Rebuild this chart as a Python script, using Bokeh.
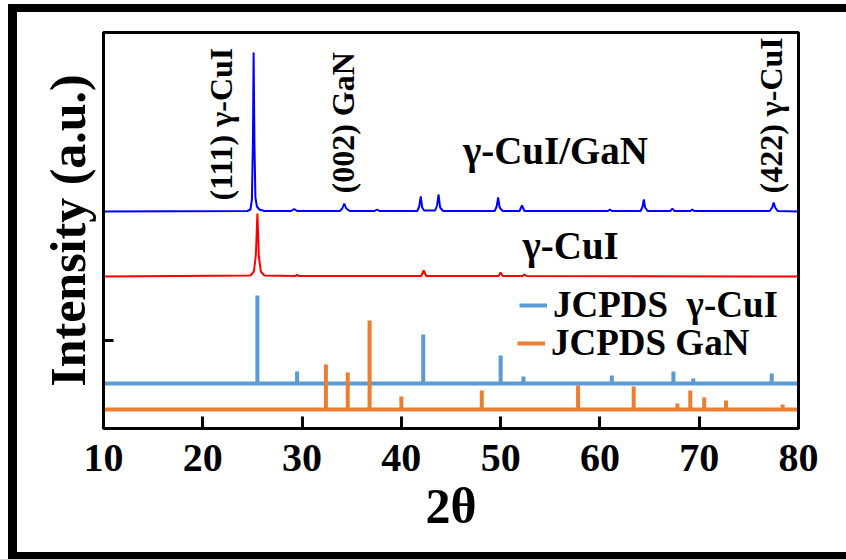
from bokeh.plotting import figure
from bokeh.models import Range1d, FixedTicker, Label, Legend, LegendItem, LinearAxis
from bokeh.embed import file_html
from bokeh.resources import INLINE
import math

# ---------------- data ----------------
# gamma-CuI/GaN film pattern (2theta, intensity above its own baseline)
cuigan_2theta = [10.0, 24.5, 24.8, 24.95, 25.05, 25.12, 25.2, 25.3, 25.45, 25.7, 26.2,
                 28.9, 29.2, 29.5, 33.8, 34.05, 34.25, 34.45, 34.8, 37.3, 37.55, 37.8,
                 41.6, 41.8, 41.95, 42.1, 42.3, 43.4, 43.6, 43.75, 43.9, 44.2,
                 49.4, 49.6, 49.75, 49.9, 50.2, 51.9, 52.15, 52.4, 60.8, 61.0, 61.2,
                 64.1, 64.3, 64.42, 64.55, 64.8, 67.1, 67.3, 67.5, 69.1, 69.3, 69.5,
                 77.1, 77.35, 77.5, 77.65, 77.9, 80.0]
cuigan_int = [0, 0.5, 2, 12, 70, 159, 70, 14, 5, 2, 0.5,
              0.5, 2.5, 0.5, 0.5, 3, 8, 3, 0.5, 0.5, 2, 0.5,
              0.5, 5, 15, 4, 1, 1, 6, 17, 4, 0.5,
              0.5, 5, 14, 4, 0.5, 0.5, 6, 0.5, 0.5, 2, 0.5,
              0.5, 5, 12, 4, 0.5, 0.5, 3, 0.5, 0.5, 2, 0.5,
              0.5, 4, 9, 4, 0.5, 0]

# gamma-CuI pattern
cui_2theta = [10.0, 24.8, 25.15, 25.35, 25.5, 25.65, 25.85, 26.2,
              29.3, 29.5, 29.7, 42.0, 42.25, 42.5, 49.8, 50.0, 50.2,
              52.2, 52.4, 52.6, 80.0]
cui_int = [0, 1, 5, 22, 63, 20, 5, 1,
           0.5, 1.5, 0.5, 0.5, 6, 0.5, 0.5, 4, 0.5,
           0.5, 2, 0.5, 0]

# JCPDS gamma-CuI reference lines
ref_cui_2theta = [25.5, 29.5, 42.2, 50.0, 52.3, 61.2, 67.4, 69.4, 77.3]
ref_cui_int = [88, 12, 49, 28, 7, 8, 12, 5, 10]

# JCPDS GaN reference lines
ref_gan_2theta = [32.4, 34.6, 36.8, 40.0, 48.1, 57.8, 63.4, 67.8, 69.1, 70.5, 72.7, 78.4]
ref_gan_int = [45, 37, 89, 13, 19, 24, 23, 6, 19, 12, 9, 5]

# vertical offsets of the stacked traces (a.u.)
offset_cuigan = 217
offset_cui = 152
offset_ref_cui = 45
offset_ref_gan = 19

x_ticks = [10, 20, 30, 40, 50, 60, 70, 80]
y_ticks = [88]

# ---------------- figure ----------------
SERIF = "Liberation Serif"
p = figure(width=846, height=559, output_backend="svg", toolbar_location=None,
           x_range=Range1d(10, 80), y_range=Range1d(0, 396),
           min_border_left=103, min_border_right=48,
           min_border_top=32, min_border_bottom=131)
# black picture frame (left, top, bottom) painted behind a transparent border area
p.border_fill_alpha = 0
p.styles = {"background-color": "white",
            "box-shadow": ("inset 8px 0 0 0 white, inset 0 4px 0 0 white, "
                           "inset 17px 0 0 0 black, inset 0 12px 0 0 black, "
                           "inset 0 -7px 0 0 black")}
p.grid.visible = False
p.background_fill_color = "white"
p.outline_line_color = "black"
p.outline_line_width = 3

# x axis
p.xaxis.ticker = FixedTicker(ticks=x_ticks)
p.xaxis.minor_tick_line_color = None
p.xaxis.major_tick_in = 12
p.xaxis.major_tick_out = 0
p.xaxis.major_tick_line_width = 3
p.xaxis.axis_line_width = 3
p.xaxis.major_label_text_font = SERIF
p.xaxis.major_label_text_font_style = "bold"
p.xaxis.major_label_text_font_size = "40px"
p.xaxis.major_label_text_color = "black"
p.xaxis.major_label_standoff = 16
p.xaxis.axis_label = "2θ"
p.xaxis.axis_label_text_font = SERIF
p.xaxis.axis_label_text_font_style = "bold"
p.xaxis.axis_label_text_font_size = "50px"
p.xaxis.axis_label_text_color = "black"
p.xaxis.axis_label_standoff = 4

# y axis
p.yaxis.ticker = FixedTicker(ticks=y_ticks)
p.yaxis.major_label_overrides = {88: ""}
p.yaxis.minor_tick_line_color = None
p.yaxis.major_tick_in = 10
p.yaxis.major_tick_out = 0
p.yaxis.major_tick_line_width = 3
p.yaxis.axis_line_width = 3
p.yaxis.axis_label = "Intensity (a.u.)"
p.yaxis.axis_label_text_font = SERIF
p.yaxis.axis_label_text_font_style = "bold"
p.yaxis.axis_label_text_font_size = "50px"
p.yaxis.axis_label_text_color = "black"
p.yaxis.axis_label_standoff = 8

# plain top and right frame lines
for side in ("above", "right"):
    ax = LinearAxis(ticker=FixedTicker(ticks=[]), axis_line_width=3,
                    axis_line_color="black",
                    major_tick_line_color=None, minor_tick_line_color=None,
                    major_label_text_font_size="0px")
    p.add_layout(ax, side)

BLUE = "#0000ff"
RED = "#ff0000"
REF_BLUE = "#5b9bd5"
REF_ORANGE = "#ed7d31"

# measured patterns
p.line(cuigan_2theta, [v + offset_cuigan for v in cuigan_int],
       line_color=BLUE, line_width=2)
p.line(cui_2theta, [v + offset_cui for v in cui_int],
       line_color=RED, line_width=2)

# reference lines
r_cui_base = p.segment(x0=[10], y0=[offset_ref_cui], x1=[80], y1=[offset_ref_cui],
                       line_color=REF_BLUE, line_width=4)
p.segment(x0=ref_cui_2theta, y0=[offset_ref_cui] * len(ref_cui_2theta),
          x1=ref_cui_2theta, y1=[v + offset_ref_cui for v in ref_cui_int],
          line_color=REF_BLUE, line_width=4)
r_gan_base = p.segment(x0=[10], y0=[offset_ref_gan], x1=[80], y1=[offset_ref_gan],
                       line_color=REF_ORANGE, line_width=4)
p.segment(x0=ref_gan_2theta, y0=[offset_ref_gan] * len(ref_gan_2theta),
          x1=ref_gan_2theta, y1=[v + offset_ref_gan for v in ref_gan_int],
          line_color=REF_ORANGE, line_width=4)

# legends (one per entry, to place rows exactly)
for item_label, rend, loc in [("JCPDS  γ-CuI", r_cui_base, (416, 102)),
                              ("JCPDS GaN", r_gan_base, (414, 64))]:
    lg = Legend(items=[LegendItem(label=item_label, renderers=[rend])],
                location=loc, background_fill_alpha=0, border_line_alpha=0,
                padding=0, margin=0, glyph_width=28, label_standoff=6,
                label_height=30, label_text_line_height=1.0,
                label_text_font=SERIF, label_text_font_style="bold",
                label_text_font_size="37px", label_text_color="black")
    p.add_layout(lg, "center")

# annotations
ann_style = dict(text_font=SERIF, text_font_style="bold", text_color="black")
p.add_layout(Label(x=21.8, y=228, text="(111) γ-CuI", angle=math.pi / 2,
                   text_align="left", text_baseline="middle",
                   text_font_size="32px", **ann_style))
p.add_layout(Label(x=34.1, y=235, text="(002) GaN", angle=math.pi / 2,
                   text_align="left", text_baseline="middle",
                   text_font_size="32px", **ann_style))
p.add_layout(Label(x=77.2, y=235, text="(422) γ-CuI", angle=math.pi / 2,
                   text_align="left", text_baseline="middle",
                   text_font_size="32px", **ann_style))
p.add_layout(Label(x=46.2, y=278, text="γ-CuI/GaN",
                   text_align="left", text_baseline="middle",
                   text_font_size="39px", **ann_style))
p.add_layout(Label(x=52.2, y=183, text="γ-CuI",
                   text_align="left", text_baseline="middle",
                   text_font_size="39px", **ann_style))

open("out.html", "w").write(file_html(p, INLINE))
